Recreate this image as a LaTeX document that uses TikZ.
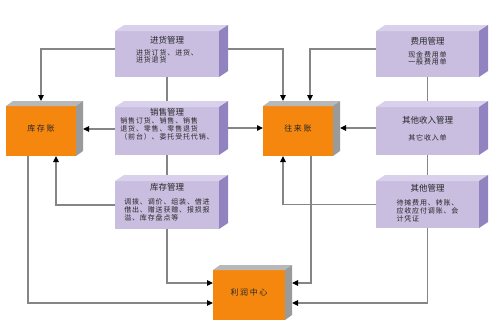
\documentclass[tikz,border=0pt]{standalone}
\usepackage{fontspec}
\newfontfamily\cjk{Noto Sans CJK SC}
\newfontfamily\cjkbody[LetterSpace=12]{Noto Sans CJK SC}
\newfontfamily\cjkwide[LetterSpace=20]{Noto Sans CJK SC}
\usetikzlibrary{arrows.meta,backgrounds,calc}
\definecolor{pfront}{HTML}{C9BEE0}
\definecolor{ptop}{HTML}{D9D1EC}
\definecolor{pside}{HTML}{9182C0}
\definecolor{ofront}{HTML}{F5870F}
\definecolor{otop}{HTML}{B8B8B8}
\definecolor{oside}{HTML}{9A9A9A}
\definecolor{lgray}{HTML}{858585}
\definecolor{txt}{HTML}{262626}
\newcommand\threedfaces[5]{%
  \fill[#2] (#1.north west) -- ++(#4,-#5) -- ([shift={(#4,-#5)}]#1.north east) -- (#1.north east) -- cycle;
  \fill[#3] (#1.north east) -- ++(#4,-#5) -- ([shift={(#4,-#5)}]#1.south east) -- (#1.south east) -- cycle;
}
\tikzset{
  pbox/.style={rectangle, fill=pfront, inner sep=0pt, outer sep=0pt, anchor=north west},
  obox/.style={rectangle, fill=ofront, inner sep=0pt, outer sep=0pt, anchor=north west,
    minimum width=70pt, minimum height=50pt},
  ttl/.style={font=\cjk\fontsize{8.5}{10}\selectfont, text=txt, inner sep=0pt},
  body/.style={font=\cjkbody\fontsize{7}{#1}\selectfont, text=txt, inner sep=0pt, align=left, anchor=north},
  body/.default=8,
  otext/.style={font=\cjkwide\fontsize{8}{10}\selectfont, text=txt, inner sep=0pt},
  conn/.style={draw=lgray, line width=1.1pt},
  arr/.style={conn, -{Triangle[length=6pt,width=5.5pt,color=black]}},
}
\begin{document}
\begin{tikzpicture}[x=1pt,y=-1pt]
\useasboundingbox (0,0) rectangle (500,333);
\begin{pgfonlayer}{background}
\fill[white] (0,0) rectangle (500,333);
\end{pgfonlayer}
% boxes
\node[pbox, minimum width=104pt, minimum height=46pt] (jh) at (115,31) {};
\node[pbox, minimum width=104pt, minimum height=48pt] (xs) at (115,107) {};
\node[pbox, minimum width=104pt, minimum height=48pt] (kg) at (115,181) {};
\node[pbox, minimum width=103pt, minimum height=46pt] (fy) at (376,31) {};
\node[pbox, minimum width=103pt, minimum height=48pt] (qs) at (376,107) {};
\node[pbox, minimum width=103pt, minimum height=47pt] (qt) at (376,181) {};
\node[obox] (kcz) at (6,106) {};
\node[obox] (wlz) at (263,106) {};
\node[obox, minimum width=72pt] (lr) at (213,270) {};
\threedfaces{jh}{ptop}{pside}{9}{6}
\threedfaces{xs}{ptop}{pside}{9}{6}
\threedfaces{kg}{ptop}{pside}{9}{6}
\threedfaces{fy}{ptop}{pside}{9}{6}
\threedfaces{qs}{ptop}{pside}{9}{6}
\threedfaces{qt}{ptop}{pside}{9}{6}
\threedfaces{kcz}{otop}{oside}{7}{5}
\threedfaces{wlz}{otop}{oside}{7}{5}
\threedfaces{lr}{otop}{oside}{7}{5}
% texts
\node[ttl] (jht) at ($(jh.north)+(0,9)$) {进货管理};
\node[body=7] (jhb) at ($(jh.north)+(0,18)$) {进货订货、进货、\\进货退货};
\node[ttl] (xst) at ($(xs.north)+(0,5.5)$) {销售管理};
\node[body] (xsb) at ($(xs.north)+(0,10)$) {销售订货、销售、销售\\退货、零售、零售退货\\（前台）、委托受托代销、};
\node[ttl] (kgt) at ($(kg.north)+(0,6.5)$) {库存管理};
\node[body] (kgb) at ($(kg.north)+(0,17.5)$) {调拨、调价、组装、借进\\借出、赠送获赠、报损报\\溢、库存盘点等};
\node[ttl] (fyt) at ($(fy.north)+(0,10)$) {费用管理};
\node[body=7] (fyb) at ($(fy.north)+(0,20)$) {现金费用单\\一般费用单};
\node[ttl] (qst) at ($(qs.north)+(0,13)$) {其他收入管理};
\node[body] (qsb) at ($(qs.north)+(0,27.5)$) {其它收入单};
\node[ttl] (qtt) at ($(qt.north)+(0,7)$) {其他管理};
\node[body] (qtb) at ($(qt.north)+(0,18.5)$) {待摊费用、转账、\\应收应付调账、会\\计凭证};
\node[otext] (kczt) at ($(kcz.center)+(0,-3)$) {库存账};
\node[otext] (wlzt) at ($(wlz.center)+(0,-3)$) {往来账};
\node[otext] (lrt) at ($(lr.center)+(0,-3)$) {利润中心};
% connectors
\begin{pgfonlayer}{background}
\draw[conn] (jh) -- (xs);
\draw[conn] (xs) -- (kg);
\draw[conn] (fy) -- (qs);
\draw[conn] (qs) -- (qt);
\draw[arr] ($(jh.west)+(0,-5)$) -| ($(kcz.north)+(0,-5)$);
\draw[arr] ($(jh.east)+(0,-5)$) -| ($(wlz.north)+(-15,-5)$);
\draw[arr] ($(fy.west)+(0,-5)$) -| ($(wlz.north)+(12,-5)$);
\draw[arr] ($(xs.west)+(0,-2)$) -- ($(kcz.east |- xs.west)+(7,-2)$);
\draw[arr] ($(xs.east)+(0,-3)$) -- ($(wlz.west |- xs.east)+(0,-3)$);
\draw[arr] ($(qs.west)+(0,-3)$) -- ($(wlz.east |- qs.west)+(7,-3)$);
\draw[arr] (kg.west) -| ($(kcz.south)+(15,0)$);
\draw[arr] ($(kcz.south)+(-13,0)$) |- ($(lr.west)+(0,8)$);
\draw[arr] (kg.south) |- ($(lr.west)+(0,-12)$);
\draw[arr] ($(wlz.south)+(13,0)$) |- ($(lr.east)+(7,-12)$);
\draw[arr] (qt.south) |- ($(lr.east)+(7,8)$);
\draw[arr] (qt.west) -| ($(wlz.south)+(-15,0)$);
\end{pgfonlayer}
\end{tikzpicture}
\end{document}
